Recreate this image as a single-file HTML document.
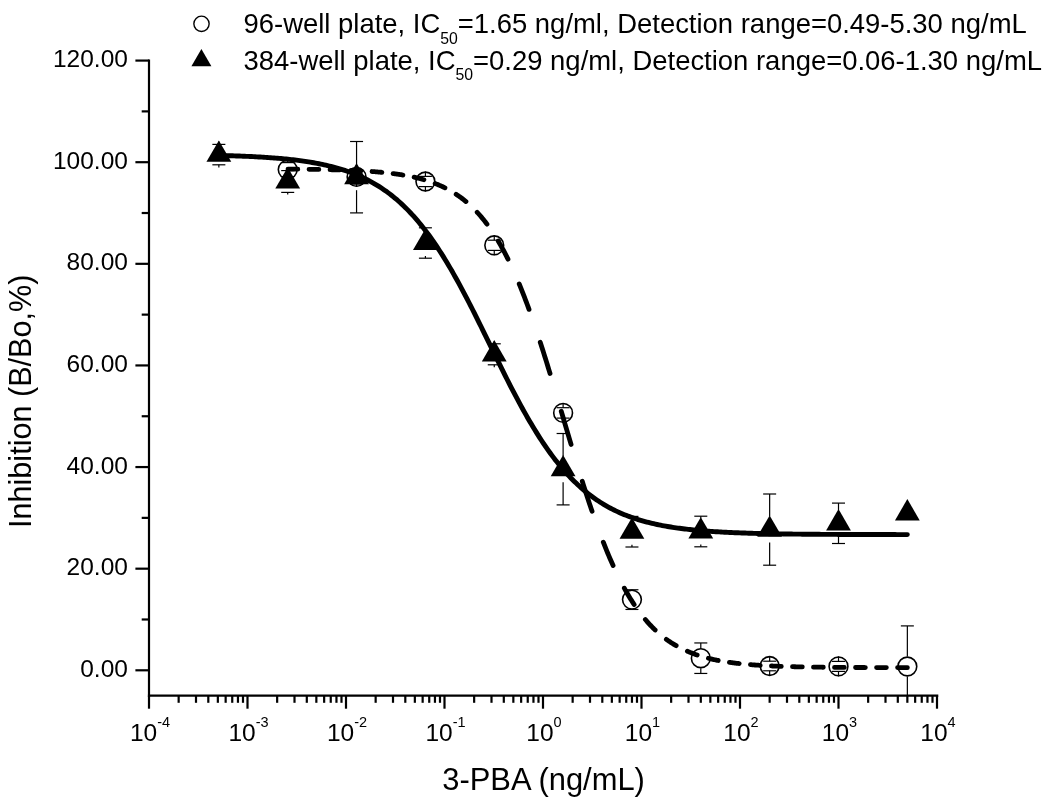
<!DOCTYPE html>
<html><head><meta charset="utf-8"><style>html,body{margin:0;padding:0;background:#fff;width:1050px;height:805px;overflow:hidden}svg{display:block;will-change:transform}text{font-family:"Liberation Sans",sans-serif}</style></head>
<body>
<svg width="1050" height="805" viewBox="0 0 1050 805">
<rect width="1050" height="805" fill="#fff"/>
<g stroke="#000" stroke-width="2.2" fill="none" stroke-linecap="butt">
<path d="M149.0 59.5 V696.8000000000001"/>
<path d="M147.9 695.7 H938.3"/>
<path d="M135.4 670.30 H149.0"/>
<path d="M135.4 568.68 H149.0"/>
<path d="M135.4 467.06 H149.0"/>
<path d="M135.4 365.44 H149.0"/>
<path d="M135.4 263.82 H149.0"/>
<path d="M135.4 162.20 H149.0"/>
<path d="M135.4 60.58 H149.0"/>
<path d="M141.7 619.49 H149.0"/>
<path d="M141.7 517.87 H149.0"/>
<path d="M141.7 416.25 H149.0"/>
<path d="M141.7 314.63 H149.0"/>
<path d="M141.7 213.01 H149.0"/>
<path d="M141.7 111.39 H149.0"/>
<path d="M149.00 695.7 V708.7"/>
<path d="M178.65 695.7 V702.8"/>
<path d="M196.00 695.7 V702.8"/>
<path d="M208.30 695.7 V702.8"/>
<path d="M217.85 695.7 V702.8"/>
<path d="M225.65 695.7 V702.8"/>
<path d="M232.24 695.7 V702.8"/>
<path d="M237.95 695.7 V702.8"/>
<path d="M242.99 695.7 V702.8"/>
<path d="M247.50 695.7 V708.7"/>
<path d="M277.15 695.7 V702.8"/>
<path d="M294.50 695.7 V702.8"/>
<path d="M306.80 695.7 V702.8"/>
<path d="M316.35 695.7 V702.8"/>
<path d="M324.15 695.7 V702.8"/>
<path d="M330.74 695.7 V702.8"/>
<path d="M336.45 695.7 V702.8"/>
<path d="M341.49 695.7 V702.8"/>
<path d="M346.00 695.7 V708.7"/>
<path d="M375.65 695.7 V702.8"/>
<path d="M393.00 695.7 V702.8"/>
<path d="M405.30 695.7 V702.8"/>
<path d="M414.85 695.7 V702.8"/>
<path d="M422.65 695.7 V702.8"/>
<path d="M429.24 695.7 V702.8"/>
<path d="M434.95 695.7 V702.8"/>
<path d="M439.99 695.7 V702.8"/>
<path d="M444.50 695.7 V708.7"/>
<path d="M474.15 695.7 V702.8"/>
<path d="M491.50 695.7 V702.8"/>
<path d="M503.80 695.7 V702.8"/>
<path d="M513.35 695.7 V702.8"/>
<path d="M521.15 695.7 V702.8"/>
<path d="M527.74 695.7 V702.8"/>
<path d="M533.45 695.7 V702.8"/>
<path d="M538.49 695.7 V702.8"/>
<path d="M543.00 695.7 V708.7"/>
<path d="M572.65 695.7 V702.8"/>
<path d="M590.00 695.7 V702.8"/>
<path d="M602.30 695.7 V702.8"/>
<path d="M611.85 695.7 V702.8"/>
<path d="M619.65 695.7 V702.8"/>
<path d="M626.24 695.7 V702.8"/>
<path d="M631.95 695.7 V702.8"/>
<path d="M636.99 695.7 V702.8"/>
<path d="M641.50 695.7 V708.7"/>
<path d="M671.15 695.7 V702.8"/>
<path d="M688.50 695.7 V702.8"/>
<path d="M700.80 695.7 V702.8"/>
<path d="M710.35 695.7 V702.8"/>
<path d="M718.15 695.7 V702.8"/>
<path d="M724.74 695.7 V702.8"/>
<path d="M730.45 695.7 V702.8"/>
<path d="M735.49 695.7 V702.8"/>
<path d="M740.00 695.7 V708.7"/>
<path d="M769.65 695.7 V702.8"/>
<path d="M787.00 695.7 V702.8"/>
<path d="M799.30 695.7 V702.8"/>
<path d="M808.85 695.7 V702.8"/>
<path d="M816.65 695.7 V702.8"/>
<path d="M823.24 695.7 V702.8"/>
<path d="M828.95 695.7 V702.8"/>
<path d="M833.99 695.7 V702.8"/>
<path d="M838.50 695.7 V708.7"/>
<path d="M868.15 695.7 V702.8"/>
<path d="M885.50 695.7 V702.8"/>
<path d="M897.80 695.7 V702.8"/>
<path d="M907.35 695.7 V702.8"/>
<path d="M915.15 695.7 V702.8"/>
<path d="M921.74 695.7 V702.8"/>
<path d="M927.45 695.7 V702.8"/>
<path d="M932.49 695.7 V702.8"/>
<path d="M937.00 695.7 V708.7"/>
</g>
<g font-family="Liberation Sans" font-size="24.5" text-anchor="end" fill="#000">
<text x="127.9" y="676.80">0.00</text>
<text x="127.9" y="575.18">20.00</text>
<text x="127.9" y="473.56">40.00</text>
<text x="127.9" y="371.94">60.00</text>
<text x="127.9" y="270.32">80.00</text>
<text x="127.9" y="168.70">100.00</text>
<text x="127.9" y="67.08">120.00</text>
</g>
<g font-family="Liberation Sans" font-size="24.5" text-anchor="middle" fill="#000">
<text x="150.00" y="740.8">10<tspan font-size="14.5" dy="-13.8">-4</tspan></text>
<text x="248.50" y="740.8">10<tspan font-size="14.5" dy="-13.8">-3</tspan></text>
<text x="347.00" y="740.8">10<tspan font-size="14.5" dy="-13.8">-2</tspan></text>
<text x="445.50" y="740.8">10<tspan font-size="14.5" dy="-13.8">-1</tspan></text>
<text x="544.00" y="740.8">10<tspan font-size="14.5" dy="-13.8">0</tspan></text>
<text x="642.50" y="740.8">10<tspan font-size="14.5" dy="-13.8">1</tspan></text>
<text x="741.00" y="740.8">10<tspan font-size="14.5" dy="-13.8">2</tspan></text>
<text x="839.50" y="740.8">10<tspan font-size="14.5" dy="-13.8">3</tspan></text>
<text x="938.00" y="740.8">10<tspan font-size="14.5" dy="-13.8">4</tspan></text>
</g>
<text x="543.6" y="789.6" font-family="Liberation Sans" font-size="30.9" text-anchor="middle">3-PBA (ng/mL)</text>
<text transform="translate(31.2 401.3) rotate(-90)" x="0" y="0" font-family="Liberation Sans" font-size="30.6" text-anchor="middle">Inhibition (B/Bo,%)</text>
<circle cx="201.5" cy="23.8" r="7.65" fill="none" stroke="#000" stroke-width="1.4"/>
<path d="M201.4 49.1 L211.4 66.3 L191.4 66.3 Z" fill="#000"/>
<g font-family="Liberation Sans" font-size="27.45" fill="#000">
<text x="243.5" y="33.3">96-well plate, IC<tspan font-size="15.8" dy="10.3">50</tspan><tspan dy="-10.3">=1.65 ng/ml, Detection range=0.49-5.30 ng/mL</tspan></text>
<text x="243.5" y="69.7">384-well plate, IC<tspan font-size="15.8" dy="10.3">50</tspan><tspan dy="-10.3">=0.29 ng/ml, Detection range=0.06-1.30 ng/mL</tspan></text>
</g>
<g stroke="#000" stroke-width="1.2" fill="none">
<path d="M287.71 159.60 V162.60"/><path d="M281.21 162.60 H294.21"/><path d="M287.71 179.60 V176.60"/><path d="M281.21 176.60 H294.21"/>
<path d="M356.56 166.90 V169.70"/><path d="M350.06 169.70 H363.06"/><path d="M356.56 186.90 V184.10"/><path d="M350.06 184.10 H363.06"/>
<path d="M425.41 171.50 V176.40"/><path d="M418.91 176.40 H431.91"/><path d="M425.41 191.50 V186.60"/><path d="M418.91 186.60 H431.91"/>
<path d="M494.26 235.30 V240.20"/><path d="M487.76 240.20 H500.76"/><path d="M494.26 255.30 V250.40"/><path d="M487.76 250.40 H500.76"/>
<path d="M563.11 402.90 V407.70"/><path d="M556.61 407.70 H569.61"/><path d="M563.11 422.90 V418.10"/><path d="M556.61 418.10 H569.61"/>
<path d="M631.95 589.60 V589.75"/><path d="M625.45 589.75 H638.45"/><path d="M631.95 609.60 V609.45"/><path d="M625.45 609.45 H638.45"/>
<path d="M700.80 648.20 V642.95"/><path d="M694.30 642.95 H707.30"/><path d="M700.80 668.20 V673.45"/><path d="M694.30 673.45 H707.30"/>
<path d="M769.65 656.00 V661.20"/><path d="M763.15 661.20 H776.15"/><path d="M769.65 676.00 V670.80"/><path d="M763.15 670.80 H776.15"/>
<path d="M838.50 656.40 V661.40"/><path d="M832.00 661.40 H845.00"/><path d="M838.50 676.40 V671.40"/><path d="M832.00 671.40 H845.00"/>
<path d="M907.35 656.50 V625.90"/><path d="M900.85 625.90 H913.85"/><path d="M907.35 676.50 V695.70"/>
<path d="M218.86 141.60 V144.40"/><path d="M212.36 144.40 H225.36"/><path d="M218.86 167.60 V164.80"/><path d="M212.36 164.80 H225.36"/>
<path d="M287.71 168.50 V170.60"/><path d="M281.21 170.60 H294.21"/><path d="M287.71 194.50 V192.40"/><path d="M281.21 192.40 H294.21"/>
<path d="M356.56 164.20 V141.50"/><path d="M350.06 141.50 H363.06"/><path d="M356.56 190.20 V212.90"/><path d="M350.06 212.90 H363.06"/>
<path d="M425.41 230.00 V227.80"/><path d="M418.91 227.80 H431.91"/><path d="M425.41 256.00 V258.20"/><path d="M418.91 258.20 H431.91"/>
<path d="M494.26 341.30 V343.80"/><path d="M487.76 343.80 H500.76"/><path d="M494.26 367.30 V364.80"/><path d="M487.76 364.80 H500.76"/>
<path d="M563.11 456.20 V433.50"/><path d="M556.61 433.50 H569.61"/><path d="M563.11 482.20 V504.90"/><path d="M556.61 504.90 H569.61"/>
<path d="M631.95 518.70 V516.40"/><path d="M625.45 516.40 H638.45"/><path d="M631.95 544.70 V547.00"/><path d="M625.45 547.00 H638.45"/>
<path d="M700.80 518.50 V516.20"/><path d="M694.30 516.20 H707.30"/><path d="M700.80 544.50 V546.80"/><path d="M694.30 546.80 H707.30"/>
<path d="M769.65 516.60 V494.00"/><path d="M763.15 494.00 H776.15"/><path d="M769.65 542.60 V565.20"/><path d="M763.15 565.20 H776.15"/>
<path d="M838.50 510.30 V503.10"/><path d="M832.00 503.10 H845.00"/><path d="M838.50 536.30 V543.50"/><path d="M832.00 543.50 H845.00"/>
</g>
<g fill="none" stroke="#000" stroke-width="1.6">
<circle cx="287.71" cy="169.60" r="9.4"/>
<circle cx="356.56" cy="176.90" r="9.4"/>
<circle cx="425.41" cy="181.50" r="9.4"/>
<circle cx="494.26" cy="245.30" r="9.4"/>
<circle cx="563.11" cy="412.90" r="9.4"/>
<circle cx="631.95" cy="599.60" r="9.4"/>
<circle cx="700.80" cy="658.20" r="9.4"/>
<circle cx="769.65" cy="666.00" r="9.4"/>
<circle cx="838.50" cy="666.40" r="9.4"/>
<circle cx="907.35" cy="666.50" r="9.4"/>
</g>
<g fill="#000">
<path d="M218.86 140.40 L231.26 161.70 L206.46 161.70 Z"/>
<path d="M287.71 167.30 L300.11 188.60 L275.31 188.60 Z"/>
<path d="M356.56 163.00 L368.96 184.30 L344.16 184.30 Z"/>
<path d="M425.41 228.80 L437.81 250.10 L413.01 250.10 Z"/>
<path d="M494.26 340.10 L506.66 361.40 L481.86 361.40 Z"/>
<path d="M563.11 455.00 L575.51 476.30 L550.71 476.30 Z"/>
<path d="M631.95 517.50 L644.35 538.80 L619.55 538.80 Z"/>
<path d="M700.80 517.30 L713.20 538.60 L688.40 538.60 Z"/>
<path d="M769.65 515.40 L782.05 536.70 L757.25 536.70 Z"/>
<path d="M838.50 509.10 L850.90 530.40 L826.10 530.40 Z"/>
<path d="M907.35 499.10 L919.75 520.40 L894.95 520.40 Z"/>
</g>
<path d="M218.86 155.43 L220.59 155.47 L222.31 155.51 L224.04 155.56 L225.77 155.60 L227.49 155.65 L229.22 155.70 L230.94 155.76 L232.67 155.81 L234.39 155.87 L236.12 155.93 L237.84 155.99 L239.57 156.05 L241.29 156.12 L243.02 156.19 L244.75 156.26 L246.47 156.33 L248.20 156.41 L249.92 156.48 L251.65 156.57 L253.37 156.65 L255.10 156.74 L256.82 156.83 L258.55 156.93 L260.28 157.02 L262.00 157.13 L263.73 157.23 L265.45 157.34 L267.18 157.45 L268.90 157.57 L270.63 157.70 L272.35 157.82 L274.08 157.95 L275.81 158.09 L277.53 158.23 L279.26 158.38 L280.98 158.53 L282.71 158.69 L284.43 158.85 L286.16 159.02 L287.88 159.20 L289.61 159.38 L291.34 159.57 L293.06 159.77 L294.79 159.97 L296.51 160.18 L298.24 160.40 L299.96 160.62 L301.69 160.86 L303.41 161.10 L305.14 161.35 L306.86 161.62 L308.59 161.89 L310.32 162.17 L312.04 162.46 L313.77 162.76 L315.49 163.07 L317.22 163.39 L318.94 163.73 L320.67 164.08 L322.39 164.44 L324.12 164.81 L325.85 165.19 L327.57 165.59 L329.30 166.01 L331.02 166.43 L332.75 166.88 L334.47 167.34 L336.20 167.81 L337.92 168.30 L339.65 168.81 L341.38 169.34 L343.10 169.88 L344.83 170.45 L346.55 171.03 L348.28 171.63 L350.00 172.26 L351.73 172.90 L353.45 173.57 L355.18 174.26 L356.91 174.97 L358.63 175.71 L360.36 176.47 L362.08 177.26 L363.81 178.07 L365.53 178.91 L367.26 179.78 L368.98 180.67 L370.71 181.60 L372.44 182.55 L374.16 183.54 L375.89 184.55 L377.61 185.60 L379.34 186.68 L381.06 187.80 L382.79 188.95 L384.51 190.14 L386.24 191.36 L387.96 192.62 L389.69 193.91 L391.42 195.25 L393.14 196.62 L394.87 198.04 L396.59 199.49 L398.32 200.99 L400.04 202.53 L401.77 204.12 L403.49 205.74 L405.22 207.42 L406.95 209.13 L408.67 210.90 L410.40 212.71 L412.12 214.56 L413.85 216.47 L415.57 218.42 L417.30 220.42 L419.02 222.47 L420.75 224.57 L422.48 226.72 L424.20 228.92 L425.93 231.17 L427.65 233.47 L429.38 235.82 L431.10 238.22 L432.83 240.67 L434.55 243.17 L436.28 245.72 L438.01 248.32 L439.73 250.97 L441.46 253.67 L443.18 256.41 L444.91 259.21 L446.63 262.05 L448.36 264.94 L450.08 267.87 L451.81 270.84 L453.53 273.86 L455.26 276.92 L456.99 280.02 L458.71 283.17 L460.44 286.34 L462.16 289.56 L463.89 292.81 L465.61 296.09 L467.34 299.40 L469.06 302.75 L470.79 306.12 L472.52 309.51 L474.24 312.93 L475.97 316.37 L477.69 319.83 L479.42 323.30 L481.14 326.79 L482.87 330.29 L484.59 333.80 L486.32 337.32 L488.05 340.84 L489.77 344.37 L491.50 347.90 L493.22 351.42 L494.95 354.94 L496.67 358.45 L498.40 361.95 L500.12 365.44 L501.85 368.92 L503.58 372.38 L505.30 375.82 L507.03 379.24 L508.75 382.63 L510.48 386.01 L512.20 389.35 L513.93 392.66 L515.65 395.95 L517.38 399.20 L519.10 402.42 L520.83 405.60 L522.56 408.74 L524.28 411.84 L526.01 414.91 L527.73 417.93 L529.46 420.91 L531.18 423.84 L532.91 426.73 L534.63 429.57 L536.36 432.37 L538.09 435.12 L539.81 437.82 L541.54 440.47 L543.26 443.07 L544.99 445.63 L546.71 448.13 L548.44 450.58 L550.16 452.99 L551.89 455.34 L553.62 457.64 L555.34 459.90 L557.07 462.10 L558.79 464.25 L560.52 466.35 L562.24 468.40 L563.97 470.41 L565.69 472.36 L567.42 474.27 L569.15 476.13 L570.87 477.94 L572.60 479.71 L574.32 481.43 L576.05 483.10 L577.77 484.73 L579.50 486.32 L581.22 487.86 L582.95 489.36 L584.67 490.82 L586.40 492.24 L588.13 493.62 L589.85 494.95 L591.58 496.25 L593.30 497.51 L595.03 498.74 L596.75 499.93 L598.48 501.08 L600.20 502.20 L601.93 503.28 L603.66 504.33 L605.38 505.35 L607.11 506.33 L608.83 507.29 L610.56 508.22 L612.28 509.11 L614.01 509.98 L615.73 510.83 L617.46 511.64 L619.19 512.43 L620.91 513.19 L622.64 513.93 L624.36 514.64 L626.09 515.33 L627.81 516.00 L629.54 516.65 L631.26 517.27 L632.99 517.88 L634.72 518.46 L636.44 519.03 L638.17 519.57 L639.89 520.10 L641.62 520.61 L643.34 521.10 L645.07 521.58 L646.79 522.04 L648.52 522.48 L650.24 522.91 L651.97 523.33 L653.70 523.73 L655.42 524.11 L657.15 524.48 L658.87 524.84 L660.60 525.19 L662.32 525.53 L664.05 525.85 L665.77 526.16 L667.50 526.47 L669.23 526.76 L670.95 527.04 L672.68 527.31 L674.40 527.57 L676.13 527.82 L677.85 528.07 L679.58 528.30 L681.30 528.53 L683.03 528.75 L684.76 528.96 L686.48 529.16 L688.21 529.36 L689.93 529.55 L691.66 529.73 L693.38 529.91 L695.11 530.08 L696.83 530.24 L698.56 530.40 L700.29 530.55 L702.01 530.70 L703.74 530.84 L705.46 530.98 L707.19 531.11 L708.91 531.24 L710.64 531.36 L712.36 531.48 L714.09 531.59 L715.81 531.70 L717.54 531.81 L719.27 531.91 L720.99 532.01 L722.72 532.11 L724.44 532.20 L726.17 532.29 L727.89 532.37 L729.62 532.45 L731.34 532.53 L733.07 532.61 L734.80 532.68 L736.52 532.75 L738.25 532.82 L739.97 532.89 L741.70 532.95 L743.42 533.01 L745.15 533.07 L746.87 533.13 L748.60 533.18 L750.33 533.23 L752.05 533.29 L753.78 533.33 L755.50 533.38 L757.23 533.43 L758.95 533.47 L760.68 533.51 L762.40 533.55 L764.13 533.59 L765.86 533.63 L767.58 533.67 L769.31 533.70 L771.03 533.74 L772.76 533.77 L774.48 533.80 L776.21 533.83 L777.93 533.86 L779.66 533.89 L781.39 533.92 L783.11 533.94 L784.84 533.97 L786.56 533.99 L788.29 534.02 L790.01 534.04 L791.74 534.06 L793.46 534.08 L795.19 534.10 L796.91 534.12 L798.64 534.14 L800.37 534.16 L802.09 534.18 L803.82 534.19 L805.54 534.21 L807.27 534.22 L808.99 534.24 L810.72 534.25 L812.44 534.27 L814.17 534.28 L815.90 534.29 L817.62 534.31 L819.35 534.32 L821.07 534.33 L822.80 534.34 L824.52 534.35 L826.25 534.36 L827.97 534.37 L829.70 534.38 L831.43 534.39 L833.15 534.40 L834.88 534.41 L836.60 534.42 L838.33 534.43 L840.05 534.43 L841.78 534.44 L843.50 534.45 L845.23 534.45 L846.96 534.46 L848.68 534.47 L850.41 534.47 L852.13 534.48 L853.86 534.49 L855.58 534.49 L857.31 534.50 L859.03 534.50 L860.76 534.51 L862.48 534.51 L864.21 534.52 L865.94 534.52 L867.66 534.52 L869.39 534.53 L871.11 534.53 L872.84 534.54 L874.56 534.54 L876.29 534.54 L878.01 534.55 L879.74 534.55 L881.47 534.55 L883.19 534.56 L884.92 534.56 L886.64 534.56 L888.37 534.56 L890.09 534.57 L891.82 534.57 L893.54 534.57 L895.27 534.57 L897.00 534.58 L898.72 534.58 L900.45 534.58 L902.17 534.58 L903.90 534.59 L905.62 534.59 L907.35 534.59" fill="none" stroke="#000" stroke-width="4.9" stroke-linecap="round" stroke-linejoin="round"/>
<path d="M288.00 169.10 L288.89 169.11 L289.78 169.12 L290.67 169.12 L291.56 169.13 L292.45 169.14 L293.35 169.15 L294.24 169.15 L295.13 169.16 L296.02 169.17 L296.91 169.18 L297.80 169.19 M309.02 169.32 L309.91 169.33 L310.80 169.34 L311.69 169.35 L312.58 169.36 L313.47 169.38 L314.37 169.39 L315.26 169.40 L316.15 169.42 L317.04 169.43 L317.93 169.45 L318.82 169.46 M330.04 169.69 L330.93 169.71 L331.82 169.73 L332.71 169.75 L333.60 169.78 L334.49 169.80 L335.39 169.82 L336.28 169.85 L337.17 169.87 L338.06 169.90 L338.95 169.93 L339.84 169.95 M351.06 170.35 L351.95 170.39 L352.84 170.43 L353.73 170.47 L354.62 170.51 L355.51 170.55 L356.41 170.59 L357.30 170.63 L358.19 170.68 L359.08 170.72 L359.97 170.77 L360.86 170.82 M372.08 171.52 L372.97 171.59 L373.86 171.66 L374.75 171.73 L375.64 171.80 L376.53 171.87 L377.43 171.94 L378.32 172.02 L379.21 172.10 L380.10 172.18 L380.99 172.26 L381.88 172.34 M393.10 173.59 L393.99 173.71 L394.88 173.82 L395.77 173.95 L396.66 174.07 L397.55 174.20 L398.45 174.33 L399.34 174.46 L400.23 174.60 L401.12 174.74 L402.01 174.88 L402.90 175.03 M414.12 177.21 L415.01 177.41 L415.90 177.62 L416.79 177.83 L417.68 178.05 L418.57 178.27 L419.47 178.50 L420.36 178.73 L421.25 178.97 L422.14 179.22 L423.03 179.47 L423.92 179.72 M435.14 183.51 L436.03 183.86 L436.92 184.21 L437.81 184.58 L438.70 184.96 L439.59 185.34 L440.49 185.73 L441.38 186.13 L442.27 186.54 L443.16 186.96 L444.05 187.39 L444.94 187.83 M456.16 194.29 L457.05 194.88 L457.94 195.49 L458.83 196.11 L459.72 196.74 L460.61 197.39 L461.51 198.05 L462.40 198.72 L463.29 199.41 L464.18 200.12 L465.07 200.84 L465.96 201.58 M477.18 212.28 L478.07 213.25 L478.96 214.24 L479.85 215.26 L480.74 216.29 L481.63 217.34 L482.53 218.42 L483.42 219.51 L484.31 220.63 L485.20 221.77 L486.09 222.93 L486.98 224.11 M498.20 241.04 L499.09 242.55 L499.98 244.09 L500.87 245.66 L501.76 247.25 L502.65 248.87 L503.55 250.52 L504.44 252.19 L505.33 253.89 L506.22 255.62 L507.11 257.37 L508.00 259.16 M519.22 284.03 L520.11 286.19 L521.00 288.39 L521.89 290.61 L522.78 292.86 L523.67 295.14 L524.57 297.45 L525.46 299.78 L526.35 302.14 L527.24 304.53 L528.13 306.94 L529.02 309.38 M540.24 342.21 L541.13 344.96 L542.02 347.74 L542.91 350.54 L543.80 353.36 L544.69 356.19 L545.59 359.04 L546.48 361.91 L547.37 364.79 L548.26 367.69 L549.15 370.60 L550.04 373.53 M561.26 411.20 L562.15 414.23 L563.04 417.26 L563.93 420.29 L564.82 423.32 L565.71 426.35 L566.61 429.38 L567.50 432.40 L568.39 435.42 L569.28 438.43 L570.17 441.44 L571.06 444.44 M582.28 481.30 L583.17 484.13 L584.06 486.94 L584.95 489.73 L585.84 492.50 L586.73 495.25 L587.63 497.98 L588.52 500.69 L589.41 503.38 L590.30 506.04 L591.19 508.69 L592.08 511.31 M603.30 542.15 L604.19 544.42 L605.08 546.66 L605.97 548.88 L606.86 551.06 L607.75 553.22 L608.65 555.35 L609.54 557.45 L610.43 559.52 L611.32 561.56 L612.21 563.58 L613.10 565.57 M624.32 588.19 L625.21 589.80 L626.10 591.38 L626.99 592.94 L627.88 594.47 L628.77 595.98 L629.67 597.45 L630.56 598.91 L631.45 600.33 L632.34 601.74 L633.23 603.12 L634.12 604.47 M645.34 619.52 L646.23 620.57 L647.12 621.59 L648.01 622.60 L648.90 623.58 L649.79 624.55 L650.69 625.50 L651.58 626.43 L652.47 627.34 L653.36 628.23 L654.25 629.10 L655.14 629.96 M666.36 639.33 L667.25 639.97 L668.14 640.60 L669.03 641.22 L669.92 641.82 L670.81 642.41 L671.71 642.98 L672.60 643.55 L673.49 644.10 L674.38 644.64 L675.27 645.17 L676.16 645.68 M687.38 651.28 L688.27 651.67 L689.16 652.04 L690.05 652.40 L690.94 652.76 L691.83 653.10 L692.73 653.44 L693.62 653.77 L694.51 654.10 L695.40 654.42 L696.29 654.73 L697.18 655.03 M708.40 658.29 L709.29 658.52 L710.18 658.73 L711.07 658.94 L711.96 659.15 L712.85 659.35 L713.75 659.54 L714.64 659.74 L715.53 659.92 L716.42 660.11 L717.31 660.28 L718.20 660.46 M729.42 662.34 L730.31 662.46 L731.20 662.59 L732.09 662.71 L732.98 662.82 L733.87 662.94 L734.77 663.05 L735.66 663.16 L736.55 663.27 L737.44 663.37 L738.33 663.47 L739.22 663.57 M750.44 664.64 L751.33 664.72 L752.22 664.79 L753.11 664.86 L754.00 664.92 L754.89 664.99 L755.79 665.05 L756.68 665.11 L757.57 665.17 L758.46 665.23 L759.35 665.29 L760.24 665.35 M771.46 665.95 L772.35 666.00 L773.24 666.04 L774.13 666.07 L775.02 666.11 L775.91 666.15 L776.81 666.19 L777.70 666.22 L778.59 666.25 L779.48 666.29 L780.37 666.32 L781.26 666.35 M792.48 666.70 L793.37 666.72 L794.26 666.74 L795.15 666.76 L796.04 666.79 L796.93 666.81 L797.83 666.83 L798.72 666.85 L799.61 666.87 L800.50 666.89 L801.39 666.90 L802.28 666.92 M813.50 667.12 L814.39 667.13 L815.28 667.14 L816.17 667.15 L817.06 667.17 L817.95 667.18 L818.85 667.19 L819.74 667.20 L820.63 667.21 L821.52 667.22 L822.41 667.23 L823.30 667.24 M834.52 667.35 L835.41 667.36 L836.30 667.37 L837.19 667.37 L838.08 667.38 L838.97 667.39 L839.87 667.39 L840.76 667.40 L841.65 667.41 L842.54 667.41 L843.43 667.42 L844.32 667.42 M855.54 667.49 L856.43 667.49 L857.32 667.49 L858.21 667.50 L859.10 667.50 L859.99 667.51 L860.89 667.51 L861.78 667.51 L862.67 667.52 L863.56 667.52 L864.45 667.52 L865.34 667.53 M876.56 667.56 L877.45 667.56 L878.34 667.57 L879.23 667.57 L880.12 667.57 L881.01 667.57 L881.91 667.57 L882.80 667.58 L883.69 667.58 L884.58 667.58 L885.47 667.58 L886.36 667.58 M897.58 667.60 L898.47 667.60 L899.36 667.61 L900.24 667.61 L901.13 667.61 L902.02 667.61 L902.91 667.61 L903.80 667.61 L904.68 667.61 L905.57 667.61 L906.46 667.61 L907.35 667.62" fill="none" stroke="#000" stroke-width="4.8" stroke-linecap="round" stroke-linejoin="round"/>
</svg>
</body></html>
